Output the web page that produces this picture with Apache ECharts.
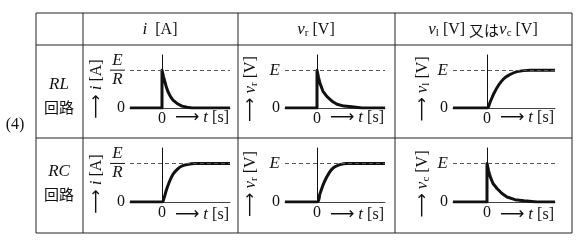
<!DOCTYPE html>
<html><head><meta charset="utf-8">
<script src="https://cdn.jsdelivr.net/npm/echarts@6/dist/echarts.min.js"></script>
<style>html,body{margin:0;padding:0;background:#fff}#c{width:585px;height:245px}</style>
</head><body><div id="c"></div><script>
// ---- data (t in ~10px units, values relative to E or E/R) ----
const rowLabels = ['RL', 'RC'];
const yTickLabels = { A: ['0', 'E/R'], B: ['0', 'E'], C: ['0', 'E'] };
const xTickLabels = ['0'];
const tA1 = [-3.2, 0, 0, 0.15, 0.3, 0.45, 0.6, 0.85, 1.1, 1.5, 2.0, 2.5, 3.0, 6.8];
const vA1 = [0, 0, 1, 0.83, 0.68, 0.54, 0.43, 0.3, 0.21, 0.12, 0.05, 0.02, 0, 0];
const tB1 = [-3.2, 0, 0, 0.15, 0.3, 0.6, 1.0, 1.5, 2.0, 2.7, 3.5, 4.5, 6.8];
const vB1 = [0, 0, 1, 0.81, 0.65, 0.44, 0.3, 0.18, 0.1, 0.05, 0.03, 0, 0];
const tC1 = [-3.4, 0, 0.3, 0.7, 1.2, 1.7, 2.2, 3.0, 4.3, 6.8];
const vC1 = [0, 0, 0.15, 0.39, 0.62, 0.78, 0.87, 0.96, 1, 1];
const tA2 = [-3.2, 0, 0.2, 0.4, 0.7, 1.1, 1.5, 1.9, 2.5, 3.3, 6.8];
const vA2 = [0, 0, 0.1, 0.28, 0.5, 0.72, 0.84, 0.92, 0.97, 1, 1];
const tB2 = [-3.2, 0, 0.3, 0.7, 1.2, 1.7, 2.3, 3.0, 6.8];
const vB2 = [0, 0, 0.22, 0.5, 0.75, 0.9, 0.97, 1, 1];
const tC2 = [-3.4, 0, 0, 0.15, 0.3, 0.6, 1.0, 1.5, 2.0, 2.8, 3.7, 5.0, 6.8];
const vC2 = [0, 0, 1, 0.82, 0.67, 0.48, 0.35, 0.22, 0.13, 0.06, 0.03, 0, 0];

const SERIF = '"Liberation Serif","DejaVu Serif",serif';
const CJK = '"Noto Sans CJK JP","Noto Sans CJK SC",sans-serif';
const INK = '#111';

const panels = [
  { t: tA1, v: vA1, col: 'A', row: 0, left: 130, right: 355, xmin: -3.2, rise: false },
  { t: tB1, v: vB1, col: 'B', row: 0, left: 285, right: 200, xmin: -3.2, rise: false },
  { t: tC1, v: vC1, col: 'C', row: 0, left: 453, right: 30, xmin: -3.4, rise: true },
  { t: tA2, v: vA2, col: 'A', row: 1, left: 130, right: 355, xmin: -3.2, rise: true },
  { t: tB2, v: vB2, col: 'B', row: 1, left: 285, right: 200, xmin: -3.2, rise: true },
  { t: tC2, v: vC2, col: 'C', row: 1, left: 453, right: 30, xmin: -3.4, rise: false }
];
const rowBox = [{ top: 55, bottom: 137 }, { top: 148, bottom: 43 }];

const grid = [], xAxis = [], yAxis = [], series = [];
panels.forEach((p, i) => {
  grid.push({ left: p.left, right: p.right, top: rowBox[p.row].top, bottom: rowBox[p.row].bottom });
  xAxis.push({
    type: 'value', gridIndex: i, min: p.xmin, max: 6.8,
    axisLine: { show: true, onZero: false, lineStyle: { color: '#444', width: 1 } },
    axisTick: { show: false }, splitLine: { show: false },
    axisLabel: { customValues: [0], formatter: () => xTickLabels[0], margin: 3,
      fontFamily: SERIF, fontSize: 16, color: INK }
  });
  const labs = yTickLabels[p.col];
  yAxis.push({
    type: 'value', gridIndex: i, min: 0, max: 1.4,
    axisLine: { show: true, lineStyle: { color: INK, width: 1 } },
    axisTick: { show: false }, splitLine: { show: false },
    axisLabel: {
      customValues: [0, 1], margin: 5, fontFamily: SERIF, fontSize: 16, color: INK,
      formatter: v => {
        const s = v === 0 ? labs[0] : labs[1];
        if (s === 'E/R') return '{n|E}\n{b| }\n{d|R}';
        if (s === 'E') return '{n|E}';
        return s;
      },
      rich: {
        n: { fontFamily: SERIF, fontStyle: 'italic', fontSize: 17, color: INK, lineHeight: 16, align: 'center' },
        d: { fontFamily: SERIF, fontStyle: 'italic', fontSize: 17, color: INK, lineHeight: 16, align: 'center' },
        b: { width: 15, height: 1, lineHeight: 3, backgroundColor: INK, fontSize: 1, align: 'center' }
      }
    }
  });
  series.push({
    type: 'line', xAxisIndex: i, yAxisIndex: i, symbol: 'none', silent: true,
    smooth: p.rise ? 0.35 : false,
    data: p.t.map((t, k) => [t, p.v[k]]),
    lineStyle: { color: INK, width: 3, join: 'round', cap: 'butt' },
    markLine: {
      symbol: 'none', silent: true, label: { show: false },
      lineStyle: { type: [4, 3], color: '#555', width: 1 },
      data: [{ yAxis: 1 }]
    }
  });
});

const graphic = [];
const line = (x1, y1, x2, y2) => graphic.push({ type: 'line', shape: { x1, y1, x2, y2 },
  style: { stroke: '#222', lineWidth: 1 }, silent: true });
// table
line(36, 13, 572, 13); line(36, 45, 572, 45); line(36, 138, 572, 138); line(36, 233, 572, 233);
line(36, 13, 36, 233); line(83, 13, 83, 233); line(238, 13, 238, 233); line(395, 13, 395, 233); line(572, 13, 572, 233);

const richBase = {
  a: { fontFamily: SERIF, fontSize: 16, fill: INK },
  i: { fontFamily: SERIF, fontSize: 17, fontStyle: 'italic', fill: INK },
  s: { fontFamily: SERIF, fontSize: 11, fill: INK, padding: [7, 0, 0, 0] },
  arr: { fontFamily: '"DejaVu Sans",sans-serif', fontSize: 17, fill: INK },
  k: { fontFamily: CJK, fontSize: 15, fill: INK }
};
const txt = (x, y, text, extra) => graphic.push(Object.assign({ type: 'text', x, y, silent: true,
  style: { text, rich: richBase, align: 'center', verticalAlign: 'middle', fontFamily: SERIF, fontSize: 16, fill: INK } }, extra || {}));

// headers
txt(160, 30, '{i|i}{a|  [A]}');
txt(316, 30, '{i|v}{s|r}{a| [V]}');
txt(483, 30, '{i|v}{s|l}{a| [V] }{k|又は}{i|v}{s|c}{a| [V]}');
// row labels
txt(59, 85, '{i|' + rowLabels[0] + '}');
txt(59, 107, '{k|回路}');
txt(59, 172, '{i|' + rowLabels[1] + '}');
txt(59, 194, '{k|回路}');
txt(15, 125, '{a|(4)}');
// x-axis names
const zeroX = [162, 317, 487];
[118, 215].forEach(y => zeroX.forEach(x0 => {
  graphic.push({ type: 'text', x: x0 + 13, y, silent: true,
    style: { text: '{arr|⟶}{a| }{i|t}{a| [s]}', rich: richBase, align: 'left', verticalAlign: 'middle' } });
}));
// rotated y-axis names
const yNames = [['{arr|⟶}{a| }{i|i}{a| [A]}', '{arr|⟶}{a| }{i|v}{s|r}{a| [V]}', '{arr|⟶}{a| }{i|v}{s|l}{a| [V]}'],
                ['{arr|⟶}{a| }{i|i}{a| [A]}', '{arr|⟶}{a| }{i|v}{s|r}{a| [V]}', '{arr|⟶}{a| }{i|v}{s|c}{a| [V]}']];
const nameX = [97, 251, 423];
[89, 184].forEach((y, r) => nameX.forEach((x, c) => {
  graphic.push({ type: 'text', x, y, rotation: Math.PI / 2, silent: true,
    style: { text: yNames[r][c], rich: richBase, align: 'center', verticalAlign: 'middle' } });
}));

const chart = echarts.init(document.getElementById('c'), null, { renderer: 'canvas' });
chart.setOption({ animation: false, backgroundColor: '#fff', grid, xAxis, yAxis, series, graphic });
</script></body></html>
